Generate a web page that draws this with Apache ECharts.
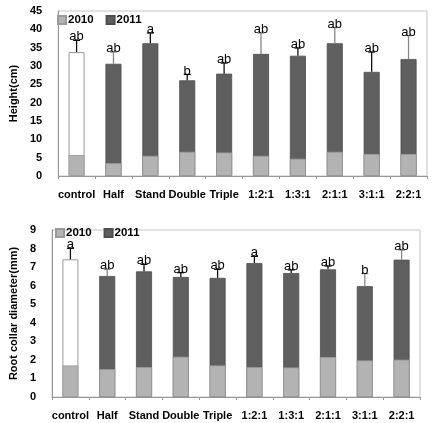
<!DOCTYPE html>
<html><head><meta charset="utf-8">
<script src="https://cdn.jsdelivr.net/npm/echarts@6/dist/echarts.min.js"></script>
<style>html,body{margin:0;padding:0;background:#fff}#c{width:433px;height:423px}</style>
</head><body><div id="c"></div>
<script>
const categories = ['control','Half','Stand','Double','Triple','1:2:1','1:3:1','2:1:1','3:1:1','2:2:1'];
const height2010 = [5.7, 3.5, 5.5, 6.6, 6.4, 5.5, 4.7, 6.6, 6.0, 6.0];
const height2011 = [33.8, 30.6, 36.2, 26.1, 27.9, 33.3, 32.8, 36.2, 28.4, 31.9];
const heightErrTop = [37.0, 33.8, 39.0, 27.7, 30.8, 39.0, 34.9, 40.5, 33.8, 38.3];
const heightLetters = ['ab','ab','a','b','ab','ab','ab','ab','ab','ab'];
const diam2010 = [1.70, 1.50, 1.61, 2.17, 1.70, 1.61, 1.59, 2.15, 1.97, 2.01];
const diam2011 = [7.42, 6.52, 6.77, 6.47, 6.42, 7.22, 6.68, 6.88, 5.97, 7.40];
const diamErrTop = [8.01, 6.88, 7.15, 6.70, 6.88, 7.58, 6.85, 7.06, 6.65, 7.92];
const diamLetters = ['a','ab','ab','ab','ab','a','ab','ab','b','ab'];

// styles (kept separate from data)
const FONT = '"Liberation Sans", Arial, sans-serif';
const heightErrColors = ['#111','#888','#111','#111','#111','#888','#111','#888','#111','#888'];
const diamErrColors = ['#111','#888','#111','#111','#111','#111','#111','#111','#888','#888'];
const C2011 = '#5f5f5f', C2010 = '#b3b3b3';

const chart = echarts.init(document.getElementById('c'));

function errSeries(idx, tops, errs, letters, colors) {
  return {
    type: 'custom', xAxisIndex: idx, yAxisIndex: idx, z: 10, silent: true,
    data: tops.map((t, i) => [i, t, errs[i]]),
    renderItem: (params, api) => {
      const i = api.value(0);
      const p0 = api.coord([i, api.value(1)]);
      const p1 = api.coord([i, api.value(2)]);
      const c = colors[i];
      return { type: 'group', children: [
        { type: 'line', shape: { x1: p0[0], y1: p0[1], x2: p1[0], y2: p1[1] }, style: { stroke: c, lineWidth: 1.3 } },
        { type: 'line', shape: { x1: p1[0] - 3.5, y1: p1[1], x2: p1[0] + 3.5, y2: p1[1] }, style: { stroke: c, lineWidth: 1.3 } },
        { type: 'text', x: p1[0], y: p1[1] + 3,
          style: { text: letters[i], font: '13px ' + FONT, fill: '#000', align: 'center', verticalAlign: 'bottom', textAlign: 'center', textVerticalAlign: 'bottom' } }
      ]};
    }
  };
}

function barSeries(idx, v2010, v2011) {
  return [
    { name: '2011', type: 'bar', xAxisIndex: idx, yAxisIndex: idx, barWidth: 16, barGap: '-100%',
      itemStyle: { color: C2011, borderColor: '#4f4f4f', borderWidth: 0.8 },
      data: v2011.map((v, i) => i === 0 ? { value: v, itemStyle: { color: '#ffffff', borderColor: '#9a9a9a', borderWidth: 1 } } : v) },
    { name: '2010', type: 'bar', xAxisIndex: idx, yAxisIndex: idx, barWidth: 16, barGap: '-100%', z: 3,
      itemStyle: { color: C2010, borderColor: '#9a9a9a', borderWidth: 0.8 },
      data: v2010 }
  ];
}

const axisLabelBold = { color: '#000', fontWeight: 'bold', fontSize: 11, fontFamily: FONT };

function xAxis(idx) {
  return { type: 'category', gridIndex: idx, data: categories,
    axisLine: { lineStyle: { color: '#999', width: 1 } },
    axisTick: { show: true, length: 3, lineStyle: { color: '#999' } },
    axisLabel: Object.assign({ interval: 0, margin: 13 }, axisLabelBold) };
}
function yAxis(idx, max, interval, name) {
  return { type: 'value', gridIndex: idx, min: 0, max: max, interval: interval,
    name: name, nameLocation: 'middle', nameGap: 32,
    nameTextStyle: { color: '#000', fontWeight: 'bold', fontSize: 11, fontFamily: FONT },
    axisLine: { show: true, lineStyle: { color: '#999', width: 1 } },
    axisTick: { show: false },
    splitLine: { show: false },
    axisLabel: Object.assign({ margin: 16 }, axisLabelBold) };
}

const legendBase = { data: ['2010', '2011'], selectedMode: false, icon: 'rect', itemWidth: 8, itemHeight: 8, itemGap: 12,
  textStyle: { color: '#000', fontWeight: 'bold', fontSize: 11.5, fontFamily: FONT, padding: [0, 0, 0, -3] }, padding: 0 };

chart.setOption({
  animation: false,
  grid: [
    { left: 49, right: 6, top: 11, height: 165, show: true, borderColor: '#c4c4c4', borderWidth: 1 },
    { left: 49, right: 13, top: 230, height: 167, show: true, borderColor: '#c4c4c4', borderWidth: 1 }
  ],
  legend: [
    Object.assign({ left: 57, top: 14 }, legendBase),
    Object.assign({ left: 55, top: 227 }, legendBase)
  ],
  xAxis: [xAxis(0), xAxis(1)],
  yAxis: [yAxis(0, 45, 5, 'Height(cm)'), yAxis(1, 9, 1, 'Root collar diameter(mm)')],
  series: [
    ...barSeries(0, height2010, height2011),
    errSeries(0, height2011, heightErrTop, heightLetters, heightErrColors),
    ...barSeries(1, diam2010, diam2011),
    errSeries(1, diam2011, diamErrTop, diamLetters, diamErrColors)
  ]
});
</script>
</body></html>
